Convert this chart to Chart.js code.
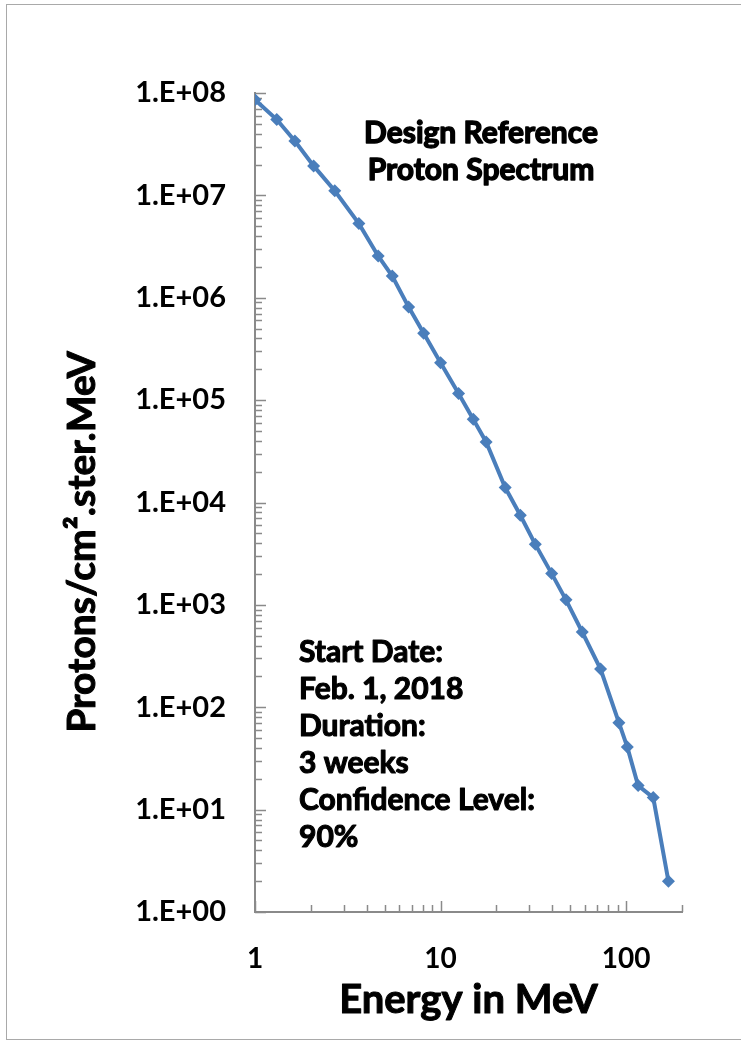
<!DOCTYPE html>
<html>
<head>
<meta charset="utf-8">
<script src="https://cdn.jsdelivr.net/npm/chart.js@4.4.1/dist/chart.umd.min.js"></script>
<style>
  html, body { margin: 0; padding: 0; background: #fff; overflow: hidden; }
  #frame { position: absolute; left: 6px; top: 4px; width: 780px; height: 1036px;
           border: 1.5px solid #a9a9a9; box-sizing: border-box; }
  #wrap { position: absolute; left: 0; top: 0; width: 741px; height: 1045px; }
</style>
</head>
<body>
<div id="frame"></div>
<div id="wrap"><canvas id="c" width="741" height="1045"></canvas></div>
<script>
// Differential proton spectrum (energy in MeV vs. flux)
const energyMeV = [1.0, 1.31, 1.64, 2.07, 2.69, 3.63, 4.61, 5.49, 6.73, 8.11,
                   10.0, 12.5, 15.0, 17.6, 22.3, 26.9, 32.4, 39.7, 47.4, 58.0,
                   72.8, 91.4, 101.5, 116, 140, 169];
const protonFlux = [8.6e7, 5.5e7, 3.4e7, 1.94e7, 1.11e7, 5.3e6, 2.56e6, 1.63e6, 8.1e5, 4.49e5,
                    2.32e5, 1.16e5, 6.5e4, 3.9e4, 1.4e4, 7.5e3, 3.9e3, 2.02e3, 1.12e3, 543,
                    236, 70.7, 40.8, 17.2, 13.1, 2.0];

const xTickValues = [1, 10, 100];
const yTickValues = [1e0, 1e1, 1e2, 1e3, 1e4, 1e5, 1e6, 1e7, 1e8];
const xRange = [1, 200];
const yRange = [1, 1e8];

const chartTitle = ['Design Reference', 'Proton Spectrum'];
const noteLines = ['Start Date:', 'Feb. 1, 2018', 'Duration:', '3 weeks', 'Confidence Level:', '90%'];
const xTitle = 'Energy in MeV';
const yTitle = 'Protons/cm\u00B2.ster.MeV';

const FONT = 'Lato, "Liberation Sans", sans-serif';
const AXIS_GRAY = '#8a8a8a';
const LINE_BLUE = '#4a7ebb';

function sciLabel(v) {
  const e = Math.round(Math.log10(v));
  return '1.E+' + String(e).padStart(2, '0');
}

// Heavy text: fill plus a thin outline in the same colour
function heavyText(ctx, t, x, y, weight) {
  ctx.lineWidth = weight;
  ctx.lineJoin = 'round';
  ctx.strokeText(t, x, y);
  ctx.fillText(t, x, y);
}

// Inside tick marks on both log axes (major at decades, minor in between)
const axisTicks = {
  id: 'axisTicks',
  beforeDatasetsDraw(chart) {
    const { ctx, chartArea: a } = chart;
    const xs = chart.scales.x, ys = chart.scales.y;
    ctx.save();
    ctx.strokeStyle = AXIS_GRAY;
    ctx.lineWidth = 1.5;
    ctx.beginPath();
    for (let k = 0; k <= 8; k++) {
      for (let m = 1; m <= 9; m++) {
        const v = m * Math.pow(10, k);
        if (v > yRange[1] + 1e-6) break;
        const py = Math.round(ys.getPixelForValue(v)) + 0.5;
        const len = m === 1 ? 11 : 7;
        ctx.moveTo(a.left, py);
        ctx.lineTo(a.left + len, py);
      }
    }
    for (let k = 0; k <= 2; k++) {
      for (let m = 1; m <= 9; m++) {
        const v = m * Math.pow(10, k);
        if (v > xRange[1] + 1e-6) break;
        const px = Math.round(xs.getPixelForValue(v)) + 0.5;
        const len = (m === 1) ? 11 : 7;
        ctx.moveTo(px, a.bottom);
        ctx.lineTo(px, a.bottom - len);
      }
    }
    ctx.stroke();
    ctx.restore();
  }
};

// Axis titles, chart title and the run notes
const annotations = {
  id: 'annotations',
  afterDraw(chart) {
    const { ctx, chartArea: a } = chart;
    ctx.save();
    ctx.fillStyle = '#000';
    ctx.strokeStyle = '#000';
    ctx.textBaseline = 'middle';

    ctx.save();
    ctx.translate(82, 542);
    ctx.rotate(-Math.PI / 2);
    ctx.font = 'bold 39px ' + FONT;
    ctx.textAlign = 'center';
    heavyText(ctx, yTitle, 0, 0, 1);
    ctx.restore();

    ctx.font = 'bold 40px ' + FONT;
    ctx.textAlign = 'center';
    heavyText(ctx, xTitle, (a.left + a.right) / 2, 1000, 1);

    ctx.font = 'bold 30px ' + FONT;
    chartTitle.forEach((t, i) => heavyText(ctx, t, 481, 133 + i * 37, 1.4));

    ctx.font = 'bold 30px ' + FONT;
    ctx.textAlign = 'left';
    noteLines.forEach((t, i) => heavyText(ctx, t, 299, 652 + i * 37, 1.1));
    ctx.restore();
  }
};

new Chart(document.getElementById('c'), {
  type: 'scatter',
  data: {
    datasets: [{
      data: energyMeV.map((e, i) => ({ x: e, y: protonFlux[i] })),
      showLine: true,
      borderColor: LINE_BLUE,
      backgroundColor: LINE_BLUE,
      borderWidth: 4,
      pointStyle: 'rectRot',
      pointRadius: 6.5,
      pointBorderWidth: 0,
      tension: 0
    }]
  },
  options: {
    responsive: false,
    animation: false,
    events: [],
    layout: { padding: { top: 93, right: 59, left: 0, bottom: 0 } },
    plugins: { legend: { display: false }, tooltip: { enabled: false } },
    scales: {
      x: {
        type: 'logarithmic',
        min: xRange[0], max: xRange[1],
        bounds: 'data',
        afterBuildTicks(s) { s.ticks = xTickValues.map(v => ({ value: v, major: true })); },
        afterFit(s) { s.height = 133; },
        grid: { display: false, drawTicks: false },
        border: { display: true, color: AXIS_GRAY, width: 2 },
        ticks: {
          autoSkip: false, maxRotation: 0, padding: 30, color: '#000',
          font: { family: FONT, size: 28, weight: 'bold' },
          callback: v => String(v)
        }
      },
      y: {
        type: 'logarithmic',
        min: yRange[0], max: yRange[1],
        bounds: 'data',
        afterBuildTicks(s) { s.ticks = yTickValues.map(v => ({ value: v, major: true })); },
        afterFit(s) { s.width = 255; },
        grid: { display: false, drawTicks: false },
        border: { display: true, color: AXIS_GRAY, width: 2 },
        ticks: {
          autoSkip: false, padding: 29, color: '#000',
          font: { family: FONT, size: 29, weight: 'bold' },
          callback: v => sciLabel(v)
        }
      }
    }
  },
  plugins: [axisTicks, annotations]
});
</script>
</body>
</html>
